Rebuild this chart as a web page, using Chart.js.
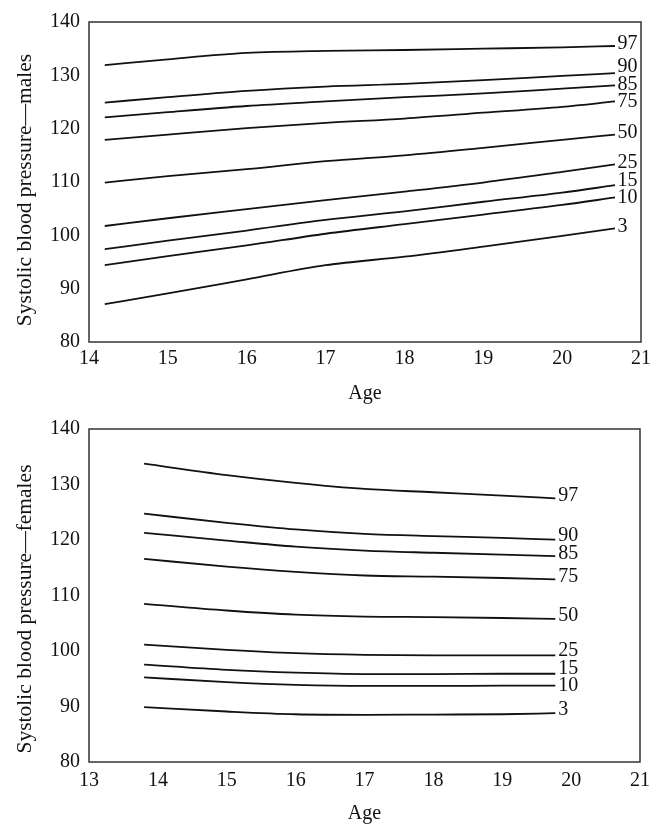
<!DOCTYPE html>
<html><head><meta charset="utf-8">
<script src="https://cdn.jsdelivr.net/npm/chart.js@4/dist/chart.umd.min.js"></script>
<style>
html,body{margin:0;padding:0;background:#fff;}
#wrap{position:relative;width:661px;height:839px;overflow:hidden;}
canvas{position:absolute;left:0;}
</style></head><body>
<div id="wrap">
<canvas id="m" width="661" height="420" style="top:0"></canvas>
<canvas id="f" width="661" height="439" style="top:400px"></canvas>
</div>
<script>
const percentiles = ['97','90','85','75','50','25','15','10','3'];
const xTicksMales = [14, 21];
const xTicksFemales = [13, 21];
const yTicks = [80, 140];

const agesMales = [14.2, 15, 16, 17, 18, 19, 20, 20.67];
const males97 = [131.9, 133.0, 134.2, 134.6, 134.75, 135.0, 135.25, 135.5];
const males90 = [124.9, 125.9, 127.1, 127.9, 128.4, 129.1, 129.9, 130.4];
const males85 = [122.1, 123.1, 124.25, 125.1, 125.9, 126.6, 127.5, 128.1];
const males75 = [117.9, 118.9, 120.1, 121.1, 121.9, 123.0, 124.1, 125.1];
const males50 = [109.9, 111.1, 112.4, 113.9, 115.0, 116.4, 117.9, 118.9];
const males25 = [101.75, 103.2, 104.9, 106.6, 108.2, 109.9, 111.9, 113.3];
const males15 = [97.4, 99.0, 100.9, 102.9, 104.5, 106.3, 108.0, 109.4];
const males10 = [94.4, 96.1, 98.1, 100.3, 102.1, 103.9, 105.7, 107.1];
const males3  = [87.1, 89.1, 91.75, 94.4, 96.0, 97.9, 99.9, 101.3];

const agesFemales = [13.8, 15, 16, 17, 18, 19, 19.77];
const females97 = [133.75, 131.7, 130.3, 129.2, 128.6, 128.0, 127.5];
const females90 = [124.75, 123.1, 121.9, 121.1, 120.7, 120.4, 120.05];
const females85 = [121.3, 119.9, 118.8, 118.1, 117.7, 117.35, 117.1];
const females75 = [116.6, 115.2, 114.25, 113.6, 113.4, 113.15, 112.9];
const females50 = [108.5, 107.3, 106.55, 106.2, 106.1, 105.95, 105.8];
const females25 = [101.15, 100.2, 99.6, 99.3, 99.2, 99.2, 99.2];
const females15 = [97.55, 96.6, 96.1, 95.85, 95.85, 95.9, 95.9];
const females10 = [95.25, 94.4, 93.9, 93.7, 93.7, 93.75, 93.75];
const females3  = [89.9, 89.1, 88.6, 88.5, 88.55, 88.6, 88.8];

const malesSeries = [males97, males90, males85, males75, males50, males25, males15, males10, males3];
const femalesSeries = [females97, females90, females85, females75, females50, females25, females15, females10, females3];

const FONT = '"Liberation Serif", "Times New Roman", serif';

function makeDatasets(ages, series) {
  return series.map((vals, i) => ({
    label: percentiles[i],
    data: vals.map((v, j) => ({x: ages[j], y: v})),
    borderColor: '#111',
    borderWidth: 1.8,
    pointRadius: 0,
    fill: false,
    cubicInterpolationMode: 'monotone'
  }));
}

const framePlugin = {
  id: 'frame',
  afterDatasetsDraw(chart, args, opts) {
    const {ctx, chartArea: a, scales} = chart;
    ctx.save();
    ctx.strokeStyle = '#333';
    ctx.lineWidth = 1.5;
    ctx.strokeRect(a.left, a.top, a.right - a.left, a.bottom - a.top);
    const items = chart.data.datasets.map(ds => {
      const p = ds.data[ds.data.length - 1];
      return {label: ds.label, x: scales.x.getPixelForValue(p.x), y: scales.y.getPixelForValue(p.y) + opts.labelShift};
    });
    items.sort((p, q) => p.y - q.y);
    for (let it = 0; it < 80; it++) {
      for (let i = 1; i < items.length; i++) {
        const d = items[i].y - items[i - 1].y;
        if (d < opts.gap) {
          const m = (opts.gap - d) / 2;
          items[i - 1].y -= m;
          items[i].y += m;
        }
      }
    }
    ctx.font = '20px ' + FONT;
    ctx.fillStyle = '#111';
    ctx.textBaseline = 'middle';
    ctx.textAlign = 'left';
    items.forEach(o => ctx.fillText(o.label, o.x + opts.labelGap, o.y));
    ctx.translate(25, (a.top + a.bottom) / 2 + opts.titleShift);
    ctx.rotate(-Math.PI / 2);
    ctx.textAlign = 'center';
    ctx.font = '21.5px ' + FONT;
    ctx.fillText(opts.yTitle, 0, 0);
    ctx.restore();
  }
};

function makeChart(id, ages, series, xTicks, cfg) {
  return new Chart(document.getElementById(id), {
    type: 'line',
    data: {datasets: makeDatasets(ages, series)},
    plugins: [framePlugin],
    options: {
      responsive: false,
      animation: false,
      layout: {padding: {top: cfg.padTop, right: cfg.padRight, left: 0, bottom: 0}},
      plugins: {
        legend: {display: false},
        tooltip: {enabled: false},
        frame: {yTitle: cfg.yTitle, titleShift: cfg.titleShift, labelShift: cfg.labelShift, gap: cfg.gap, labelGap: cfg.labelGap}
      },
      scales: {
        x: {
          type: 'linear',
          min: xTicks[0], max: xTicks[1],
          grid: {display: false, drawTicks: false},
          border: {display: false},
          ticks: {stepSize: 1, autoSkip: false, padding: cfg.xTickPad, color: '#111', font: {family: FONT, size: 20}, maxRotation: 0},
          title: {display: true, text: 'Age', color: '#111', font: {family: FONT, size: 20}, padding: {top: 0, bottom: cfg.xTitlePad}},
          afterFit(s) { s.height = cfg.xHeight; }
        },
        y: {
          min: yTicks[0], max: yTicks[1],
          grid: {display: false, drawTicks: false},
          border: {display: false},
          ticks: {stepSize: 10, padding: 9, color: '#111', font: {family: FONT, size: 20}},
          afterFit(s) { s.width = 89; }
        }
      }
    }
  });
}

makeChart('m', agesMales, malesSeries, xTicksMales, {
  padTop: 22, padRight: 20, xHeight: 78, xTickPad: 4.5, xTitlePad: 14.6,
  yTitle: 'Systolic blood pressure\u2014males', titleShift: 8, labelShift: -2, gap: 17.5, labelGap: 2.5
});
makeChart('f', agesFemales, femalesSeries, xTicksFemales, {
  padTop: 29, padRight: 21, xHeight: 77, xTickPad: 6.7, xTitlePad: 13.6,
  yTitle: 'Systolic blood pressure\u2014females', titleShift: 13.5, labelShift: -3, gap: 17.5, labelGap: 3
});
</script>
</body></html>
